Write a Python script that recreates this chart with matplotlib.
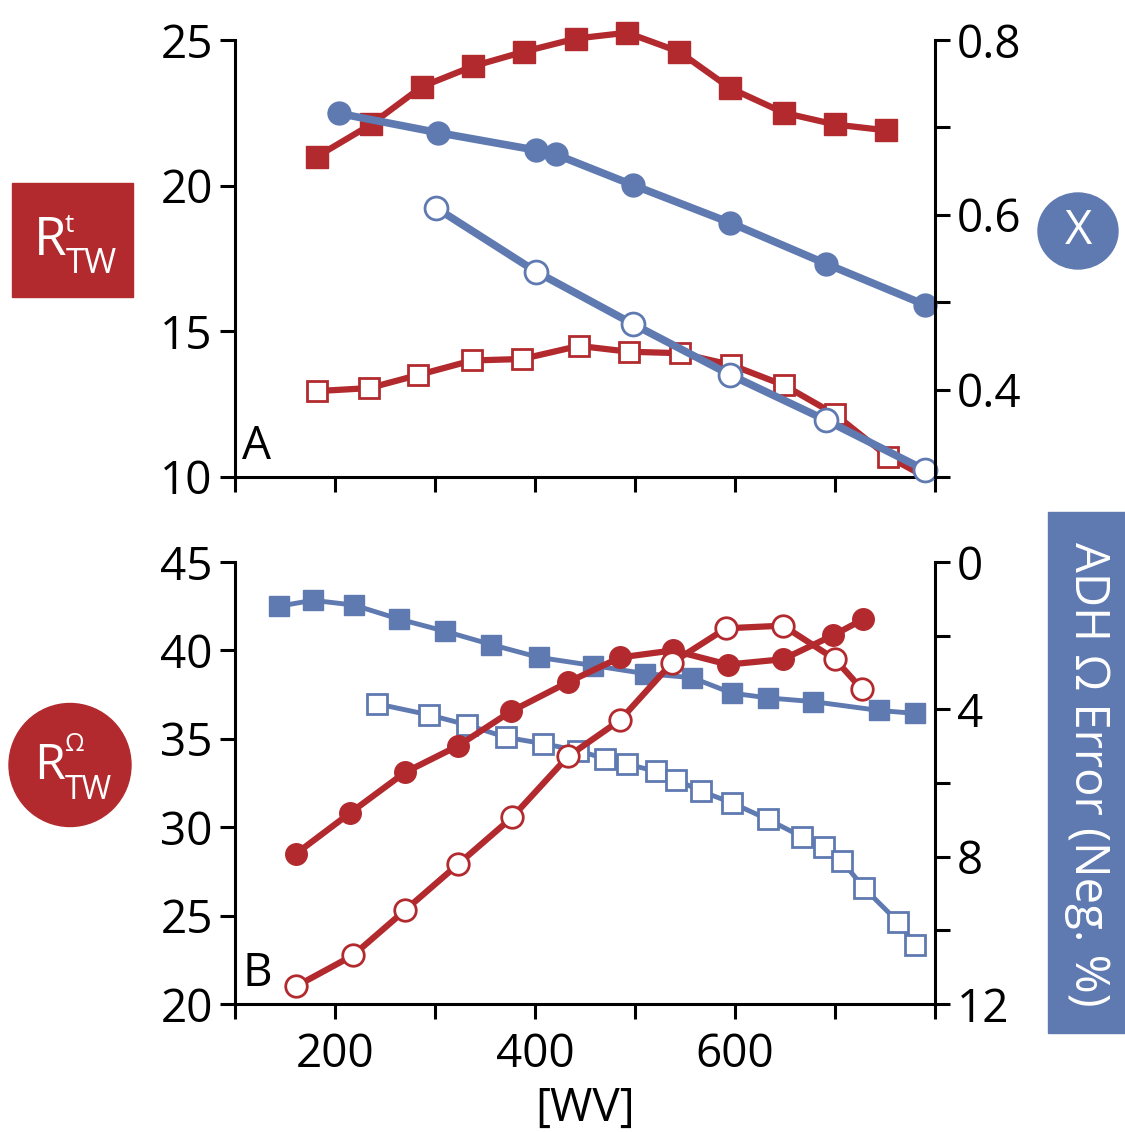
import matplotlib
matplotlib.use("Agg")
import matplotlib.pyplot as plt
from matplotlib.patches import Rectangle, Ellipse

plt.rcParams['font.family'] = ['Open Sans', 'DejaVu Sans']

RED = '#B22A2E'
BLUE = '#5F79B1'
W, H = 1125, 1133

# Panel A: R^t_TW (left axis) and X (right axis) vs [WV]
wv_rt_fill = [182, 236, 287, 338, 389, 441, 492, 544, 595, 649, 700, 751]
rt_fill = [21.0, 22.1, 23.4, 24.1, 24.6, 25.05, 25.25, 24.6, 23.35, 22.5, 22.1, 21.9]
wv_rt_open = [182, 234, 283, 337, 387, 444, 494, 545, 596, 649, 700, 753, 796]
rt_open = [12.95, 13.05, 13.5, 14.0, 14.05, 14.5, 14.3, 14.25, 13.85, 13.15, 12.15, 10.7, 9.9]
wv_x_fill = [204, 303, 401, 421, 498, 595, 691, 790]
x_fill = [0.716, 0.694, 0.674, 0.669, 0.634, 0.591, 0.544, 0.497]
wv_x_open = [301, 401, 498, 595, 691, 790]
x_open = [0.608, 0.535, 0.475, 0.417, 0.365, 0.308]

# Panel B: R^Omega_TW (left axis) and ADH Omega error (right axis, inverted)
wv_rom_fill = [161, 215, 270, 323, 376, 433, 485, 538, 593, 648, 698, 728]
rom_fill = [28.5, 30.8, 33.1, 34.6, 36.55, 38.2, 39.6, 40.0, 39.2, 39.5, 40.85, 41.75]
wv_rom_open = [161, 218, 270, 323, 377, 433, 485, 537, 591, 648, 700, 727]
rom_open = [21.0, 22.75, 25.3, 27.9, 30.55, 34.0, 36.05, 39.3, 41.25, 41.4, 39.5, 37.8]
wv_adh_fill = [144, 178, 219, 264, 310, 356, 404, 458, 510, 557, 597, 633, 678, 744, 780]
adh_fill = [1.2, 1.04, 1.17, 1.55, 1.88, 2.24, 2.59, 2.81, 3.03, 3.14, 3.56, 3.69, 3.79, 4.03, 4.11]
wv_adh_open = [242, 294, 332, 371, 408, 443, 470, 492, 521, 541, 566, 597, 633, 667, 689,
               707, 729, 763, 780]
adh_open = [3.85, 4.15, 4.42, 4.76, 4.93, 5.12, 5.34, 5.49, 5.68, 5.91, 6.22, 6.54, 6.99,
            7.46, 7.74, 8.12, 8.85, 9.77, 10.39]


def style(ax, twin=False):
    ax.spines['top'].set_visible(False)
    for s in ['left', 'right', 'bottom']:
        ax.spines[s].set_linewidth(2.2)
    if twin:
        ax.spines['left'].set_visible(False)
        ax.spines['bottom'].set_visible(False)
    else:
        ax.spines['right'].set_visible(False)
    ax.tick_params(direction='out', length=11, width=2.2, labelsize=33, pad=5)


fig = plt.figure(figsize=(W / 100, H / 100), dpi=100)

# ---- panel A
axA = fig.add_axes([235 / W, 1 - 477 / H, 700 / W, 437 / H])
axA2 = axA.twinx()
style(axA)
style(axA2, twin=True)

axA.plot(wv_rt_fill, rt_fill, '-s', color=RED, lw=4.5, ms=15.5, mfc=RED, mec=RED, clip_on=False)
axA.plot(wv_rt_open, rt_open, '-s', color=RED, lw=4.5, ms=15, mfc='white', mec=RED, mew=2)
axA2.plot(wv_x_fill, x_fill, '-o', color=BLUE, lw=5.5, ms=16.5, mfc=BLUE, mec=BLUE, clip_on=False)
axA2.plot(wv_x_open, x_open, '-o', color=BLUE, lw=5.5, ms=16.5, mfc='white', mec=BLUE, mew=2,
          clip_on=False)

axA.set_xlim(100, 800)
axA.set_xticks(range(100, 801, 100))
axA.set_xticklabels([])
axA.set_ylim(10, 25)
axA.set_yticks([10, 15, 20, 25])
axA2.set_ylim(0.3, 0.8)
axA2.set_yticks([0.3, 0.4, 0.5, 0.6, 0.7, 0.8])
axA2.set_yticklabels(['', '0.4', '', '0.6', '', '0.8'])
axA.text(0.01, 0.015, 'A', transform=axA.transAxes, fontsize=33, va='bottom', ha='left')

# ---- panel B
axB = fig.add_axes([235 / W, 1 - 1004 / H, 700 / W, 442 / H])
axB2 = axB.twinx()
style(axB)
style(axB2, twin=True)
axB.set_zorder(axB2.get_zorder() + 1)
axB.patch.set_visible(False)

axB2.plot(wv_adh_fill, adh_fill, '-s', color=BLUE, lw=3.5, ms=14.5, mfc=BLUE, mec=BLUE)
axB2.plot(wv_adh_open, adh_open, '-s', color=BLUE, lw=3.5, ms=14.5, mfc='white', mec=BLUE, mew=2)
axB.plot(wv_rom_fill, rom_fill, '-o', color=RED, lw=4.5, ms=15.5, mfc=RED, mec=RED)
axB.plot(wv_rom_open, rom_open, '-o', color=RED, lw=4.5, ms=15.5, mfc='white', mec=RED, mew=2,
         clip_on=False)

axB.set_xlim(100, 800)
axB.set_xticks(range(100, 801, 100))
axB.set_xticklabels(['', '200', '', '400', '', '600', '', ''])
axB.tick_params(axis='x', pad=9)
axB.set_ylim(20, 45)
axB.set_yticks([20, 25, 30, 35, 40, 45])
axB2.set_ylim(12, 0)
axB2.set_yticks([0, 2, 4, 6, 8, 10, 12])
axB2.set_yticklabels(['0', '', '4', '', '8', '', '12'])
axB.set_xlabel('[WV]', fontsize=33, labelpad=6)
axB.text(0.01, 0.015, 'B', transform=axB.transAxes, fontsize=33, va='bottom', ha='left')

# ---- side labels
fig.add_artist(Rectangle((12 / W, 1 - 297 / H), 121 / W, 114 / H,
                         transform=fig.transFigure, color=RED))
fig.text(34 / W, 1 - 255 / H, 'R', color='white', fontsize=38, va='baseline')
fig.text(65 / W, 1 - 232 / H, 't', color='white', fontsize=19, va='baseline')
fig.text(66 / W, 1 - 273 / H, 'TW', color='white', fontsize=25, va='baseline')

fig.add_artist(Ellipse((70 / W, 1 - 765 / H), 122 / W, 123 / H,
                       transform=fig.transFigure, color=RED))
fig.text(34 / W, 1 - 779 / H, 'R', color='white', fontsize=36, va='baseline')
fig.text(65 / W, 1 - 751 / H, 'Ω', color='white', fontsize=18, va='baseline')
fig.text(65 / W, 1 - 799 / H, 'TW', color='white', fontsize=23, va='baseline')

fig.add_artist(Ellipse((1078 / W, 1 - 231 / H), 80 / W, 76 / H,
                       transform=fig.transFigure, color=BLUE))
fig.text(1078 / W, 1 - 231 / H, 'X', color='white', fontsize=34, ha='center', va='center')

fig.add_artist(Rectangle((1048 / W, 1 - 1033 / H), 80 / W, 521 / H,
                         transform=fig.transFigure, color=BLUE))
fig.text(1088 / W, 1 - 774 / H, 'ADH Ω Error (Neg. %)', color='white', fontsize=34,
         rotation=-90, ha='center', va='center')

fig.savefig('out.png', dpi=100, facecolor='white')
